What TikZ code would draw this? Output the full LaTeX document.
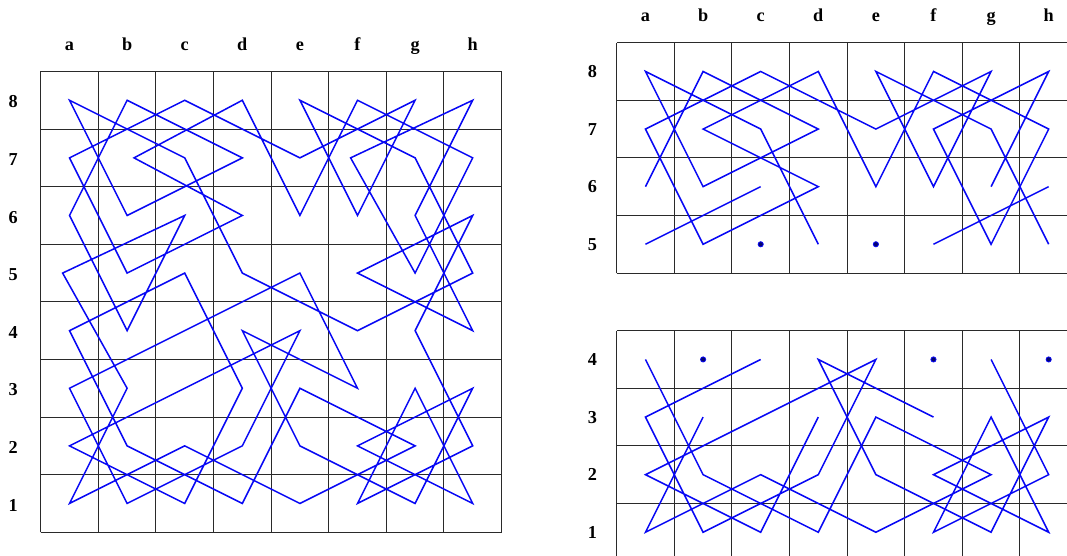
\documentclass[tikz,border=0pt]{standalone}
\usepackage{fontspec}
\setmainfont{Liberation Serif}
\usepackage{tikz}
\definecolor{tourblue}{HTML}{0808F4}
\definecolor{gridgray}{HTML}{2A2A2A}
\begin{document}
\begin{tikzpicture}[
  sq/.style={draw=gridgray, line width=0.55pt},
  tour/.style={tourblue, line width=0.75pt},
  lbl/.style={font=\fontsize{9}{10}\selectfont\bfseries, inner sep=0pt},
  spot/.style={fill=tourblue!45!black, draw=tourblue, line width=0.4pt}
]
\clip (-0.707,-0.411) rectangle (17.818,9.241);
\foreach \c [count=\i] in {a,...,h} {
  \foreach \r in {1,...,8} {
    \coordinate (L\c\r) at (\i-0.5,\r-0.5);
  }
  \foreach \r in {1,...,4} \coordinate (R\c\r) at (\i+9.5,\r-1);
  \foreach \r in {5,...,8} \coordinate (R\c\r) at (\i+9.5,\r);
  \node[lbl, anchor=base] (topL-\c) at (\i-0.5,8.36) {\c};
  \node[lbl, anchor=base] (topR-\c) at (\i+9.5,8.86) {\c};
}
\coordinate (La5) at (0.38,4.5);
\coordinate (Lb7) at (1.62,6.5);
\coordinate (Lf7) at (5.38,6.5);
\foreach \r in {1,...,8} \node[lbl] (rowL-\r) at (-0.48,\r-0.53) {\r};
\foreach \r in {5,...,8} \node[lbl] (rowR-\r) at (9.58,\r) {\r};
\foreach \r in {1,...,4} \node[lbl] (rowR-\r) at (9.58,\r-1) {\r};

\draw[sq] (0,0) grid (8,8);
\draw[sq, shift={(10,4.5)}] (0,0) grid (8,4);
\draw[sq, shift={(10,-0.5)}] (0,0) grid (8,4);

\draw[tour] (La8) -- (Lb6) -- (Ld7) -- (Lb8) -- (La6) -- (Lb4) -- (Lc6) -- (La5)
  -- (Lb3) -- (La1) -- (Lc2) -- (Le1) -- (Lg2) -- (Le3) -- (Ld1) -- (Lb2) -- (La4)
  -- (Lc5) -- (Ld3) -- (Lc1) -- (La2) -- (Lc3) -- (Le4) -- (Ld2) -- (Lb1) -- (La3)
  -- (Lc4) -- (Le5) -- (Lf3) -- (Ld4) -- (Le2) -- (Lg1) -- (Lh3) -- (Lf2) -- (Lh1)
  -- (Lg3) -- (Lf1) -- (Lh2) -- (Lg4) -- (Lh6) -- (Lf5) -- (Lh4) -- (Lg6) -- (Lh8)
  -- (Lf7) -- (Lg5) -- (Lh7) -- (Lf8) -- (Le6) -- (Ld8) -- (Lb7) -- (Ld6) -- (Lb5)
  -- (La7) -- (Lc8) -- (Le7) -- (Lg8) -- (Lf6) -- (Le8) -- (Lg7) -- (Lh5) -- (Lf4)
  -- (Ld5) -- (Lc7) -- cycle;

\draw[tour] (Rd5) -- (Rc7) -- (Ra8) -- (Rb6) -- (Rd7) -- (Rb8) -- (Ra6);
\draw[tour] (Rc6) -- (Ra5);
\draw[tour] (Rh6) -- (Rf5);
\draw[tour] (Rg6) -- (Rh8) -- (Rf7) -- (Rg5) -- (Rh7) -- (Rf8) -- (Re6) -- (Rd8)
  -- (Rb7) -- (Rd6) -- (Rb5) -- (Ra7) -- (Rc8) -- (Re7) -- (Rg8) -- (Rf6) -- (Re8)
  -- (Rg7) -- (Rh5);
\fill[spot] (Rc5) circle (0.045);
\fill[spot] (Re5) circle (0.045);

\draw[tour] (Rb3) -- (Ra1) -- (Rc2) -- (Re1) -- (Rg2) -- (Re3) -- (Rd1) -- (Rb2) -- (Ra4);
\draw[tour] (Rd3) -- (Rc1) -- (Ra2) -- (Rc3) -- (Re4) -- (Rd2) -- (Rb1) -- (Ra3) -- (Rc4);
\draw[tour] (Rf3) -- (Rd4) -- (Re2) -- (Rg1) -- (Rh3) -- (Rf2) -- (Rh1) -- (Rg3) -- (Rf1)
  -- (Rh2) -- (Rg4);
\fill[spot] (Rb4) circle (0.045);
\fill[spot] (Rf4) circle (0.045);
\fill[spot] (Rh4) circle (0.045);
\end{tikzpicture}
\end{document}
